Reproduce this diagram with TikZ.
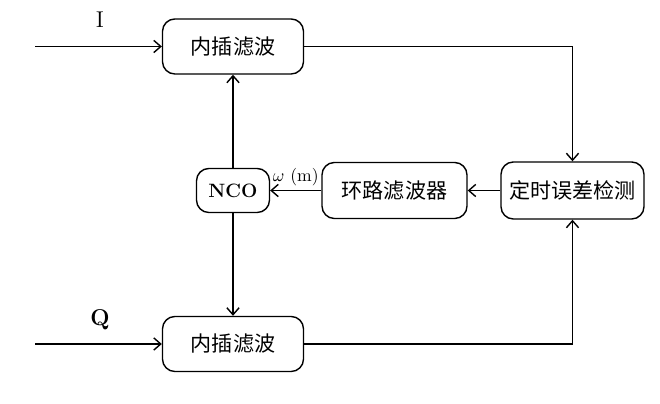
\documentclass[tikz,border=0pt]{standalone}
\usepackage{fontspec}
\newfontfamily\cjk{Noto Sans CJK SC}
\usetikzlibrary{arrows.meta}
\begin{document}
\begin{tikzpicture}[x=0.02cm,y=-0.02cm,line width=0.8pt,
    blk/.style={draw, rounded corners=7pt, inner sep=0pt, font=\cjk\fontsize{12}{14}\selectfont},
    arr/.style={-{Straight Barb[length=4pt,width=7pt]}}]
  \useasboundingbox (0,0) rectangle (660,404);
  \node[blk, minimum width=2.82cm, minimum height=1.1cm] (interpI) at (233,46.5) {内插滤波};
  \node[blk, minimum width=2.82cm, minimum height=1.1cm] (interpQ) at (233,344) {内插滤波};
  \node[blk, minimum width=1.46cm, minimum height=0.88cm, font=\bfseries\fontsize{11}{13}\selectfont] (nco) at (233,190.5) {NCO};
  \node[blk, minimum width=2.9cm, minimum height=1.12cm] (loop) at (394.5,190.5) {环路滤波器};
  \node[blk, minimum width=2.86cm, minimum height=1.14cm] (ted) at (572.5,190.5) {定时误差检测};
  \coordinate (inI) at (35,46.5);
  \coordinate (inQ) at (35,344);
  \node[font=\fontsize{13}{15}\selectfont] (lblI) at (100,20) {I};
  \node[font=\bfseries\fontsize{13}{15}\selectfont] (lblQ) at (100,320) {Q};
  \draw[arr] (inI) -- (interpI);
  \draw[arr] (inQ) -- (interpQ);
  \draw[arr] (interpI.east) -| (ted.north);
  \draw[arr] (interpQ.east) -| (ted.south);
  \draw[arr] (ted) -- (loop);
  \draw[arr] (loop) -- node[above, font=\fontsize{10}{12}\selectfont, inner sep=2pt] (omega) {$\omega$ (m)} (nco);
  \draw[arr] (nco) -- (interpI);
  \draw[arr] (nco) -- (interpQ);
\end{tikzpicture}
\end{document}
